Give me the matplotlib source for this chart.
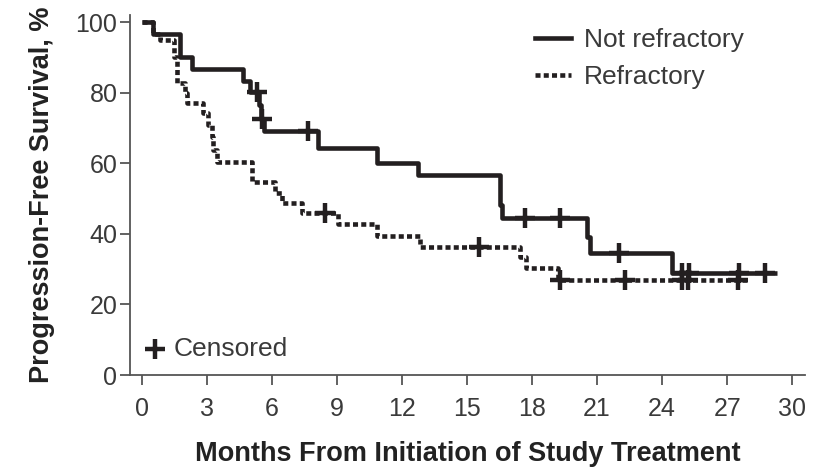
import matplotlib
matplotlib.use('Agg')
import matplotlib.pyplot as plt
from matplotlib.lines import Line2D
import numpy as np

plt.rcParams['font.family'] = ['Liberation Sans', 'DejaVu Sans']

# Kaplan-Meier steps (months, % PFS)
nr_times = [0, 0.5, 1.77, 2.3, 4.69, 5.0, 5.4, 5.5, 5.65, 8.14, 10.85, 12.74, 16.52, 16.6, 20.53, 20.67, 24.45]
nr_surv = [100, 96.7, 90.0, 86.8, 83.2, 80.3, 76.5, 72.5, 69.2, 64.2, 60.0, 56.7, 48.2, 44.6, 39.2, 34.7, 29.0]
nr_end = 29.3
nr_censor = [5.3, 5.55, 7.68, 17.67, 19.28, 22.0, 24.9, 25.23, 27.53, 28.74]

rf_times = [0, 0.5, 0.85, 1.5, 1.62, 2.0, 2.1, 2.84, 3.07, 3.23, 3.3, 3.46, 5.07, 6.15, 6.45,
            7.38, 9.05, 10.85, 12.84, 17.44, 17.74, 19.19]
rf_surv = [100, 96.7, 95.0, 90.0, 82.6, 80.0, 77.0, 74.2, 70.8, 67.5, 63.7, 60.2, 54.8, 51.5, 48.6,
           45.8, 42.8, 39.4, 36.4, 33.5, 30.2, 26.8]
rf_end = 28.0
rf_censor = [8.45, 15.56, 19.28, 22.28, 24.9, 25.2, 27.5]

x_ticks = [0, 3, 6, 9, 12, 15, 18, 21, 24, 27, 30]
y_ticks = [0, 20, 40, 60, 80, 100]

INK = '#231f20'
GRAY = '#3a3a3a'
DOTS = (0, (1.1, 0.7))


def surv_at(times, surv, t):
    idx = np.searchsorted(times, t, side='right') - 1
    return np.asarray(surv)[idx]


fig = plt.figure(figsize=(8.19, 4.67), dpi=100)
ax = fig.add_axes([0.1587, 0.197, 0.824, 0.771])

for times, surv, end, cens, ls in [(nr_times, nr_surv, nr_end, nr_censor, '-'),
                                   (rf_times, rf_surv, rf_end, rf_censor, DOTS)]:
    tt = list(times) + [end]
    ss = list(surv) + [surv[-1]]
    ax.step(tt, ss, where='post', color=INK, lw=3.3, linestyle=ls,
            solid_capstyle='butt', dash_capstyle='butt')
    ax.plot(cens, surv_at(times, surv, cens), linestyle='none', marker='+',
            color=INK, markersize=14, markeredgewidth=3.2)

ax.set_xlim(-0.54, 30.58)
ax.set_ylim(0, 102)
ax.set_xticks(x_ticks)
ax.set_yticks(y_ticks)
for s in ['top', 'right']:
    ax.spines[s].set_visible(False)
for s in ['left', 'bottom']:
    ax.spines[s].set_color('#555555')
    ax.spines[s].set_linewidth(1.3)
ax.tick_params(length=7, width=1.3, color='#555555', labelsize=18, labelcolor=GRAY)
ax.tick_params(axis='x', pad=9)
ax.tick_params(axis='y', pad=2)

ax.set_xlabel('Months From Initiation of Study Treatment', fontsize=19.5, fontweight='bold',
              color='#222222', labelpad=14)
ax.set_ylabel('Progression-Free Survival, %', fontsize=19.5, fontweight='bold',
              color='#222222', labelpad=15)

handles = [Line2D([], [], color=INK, lw=3.3),
           Line2D([], [], color=INK, lw=3.3, linestyle=DOTS, dash_capstyle='butt')]
leg = ax.legend(handles, ['Not refractory', 'Refractory'], loc='upper right',
                bbox_to_anchor=(0.945, 1.029), frameon=False, fontsize=19,
                handlelength=1.35, handletextpad=0.5, labelspacing=0.5)
for t in leg.get_texts():
    t.set_color(GRAY)

ax.plot([0.6], [7.5], linestyle='none', marker='+', color=INK, markersize=14, markeredgewidth=3.2)
ax.text(1.45, 7.5, 'Censored', fontsize=19, color=GRAY, va='center', ha='left')

fig.savefig('out.png', dpi=100, facecolor='white')
